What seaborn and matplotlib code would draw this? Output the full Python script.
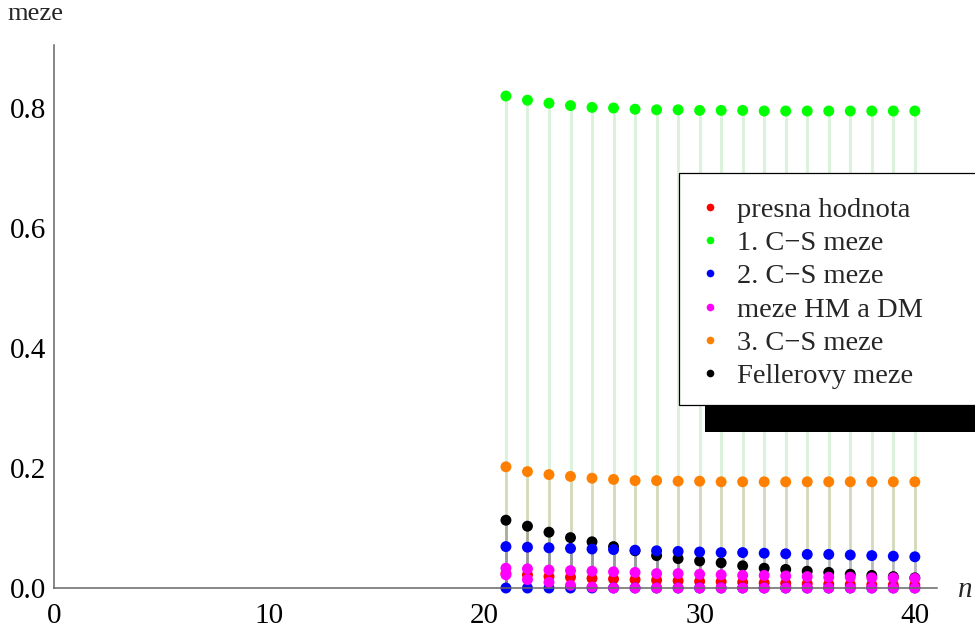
import numpy as np
import pandas as pd
import matplotlib
matplotlib.use("Agg")
import matplotlib.pyplot as plt
from matplotlib.lines import Line2D
from matplotlib.patches import Rectangle
import seaborn as sns

# ---- data -------------------------------------------------------------
n = list(range(21, 41))

presna = [0.024, 0.022, 0.019, 0.018, 0.016, 0.015, 0.014, 0.013, 0.012, 0.011,
          0.0105, 0.0095, 0.0085, 0.008, 0.0072, 0.0065, 0.006, 0.0055, 0.005, 0.005]
cs1 = [0.820, 0.813, 0.808, 0.804, 0.801, 0.800, 0.798, 0.797, 0.797, 0.796,
       0.796, 0.796, 0.795, 0.795, 0.795, 0.795, 0.795, 0.795, 0.795, 0.795]
cs2_horni = [0.069, 0.068, 0.067, 0.066, 0.065, 0.064, 0.063, 0.062, 0.061, 0.060,
             0.059, 0.059, 0.058, 0.057, 0.056, 0.056, 0.055, 0.054, 0.053, 0.052]
cs2_dolni = [0.0] * 20
hmdm_horni = [0.033, 0.032, 0.030, 0.029, 0.028, 0.027, 0.026, 0.024, 0.024, 0.023,
              0.022, 0.021, 0.021, 0.020, 0.019, 0.018, 0.018, 0.017, 0.017, 0.016]
hmdm_dolni = [0.022, 0.014, 0.0095, 0.0045, 0.0015, 0.0, 0.0, 0.0, 0.0, 0.0,
              0.0, 0.0, 0.0, 0.0, 0.0, 0.0, 0.0, 0.0, 0.0, 0.0]
cs3 = [0.202, 0.194, 0.189, 0.186, 0.183, 0.181, 0.179, 0.179, 0.178, 0.178,
       0.177, 0.177, 0.177, 0.177, 0.177, 0.177, 0.177, 0.177, 0.177, 0.177]
feller = [0.113, 0.103, 0.093, 0.084, 0.077, 0.069, 0.062, 0.054, 0.049, 0.045,
          0.042, 0.037, 0.033, 0.031, 0.028, 0.026, 0.023, 0.021, 0.019, 0.017]

labels = ["presna hodnota", "1. C\u2212S meze", "2. C\u2212S meze",
          "meze HM a DM", "3. C\u2212S meze", "Fellerovy meze"]
colors = ["#ff0000", "#00ff00", "#0000ff", "#ff00ff", "#ff8000", "#000000"]
palette = dict(zip(labels, colors))

# drawing order (later rows on top)
series = [
    (labels[1], cs1),
    (labels[4], cs3),
    (labels[5], feller),
    (labels[0], presna),
    (labels[2], cs2_horni),
    (labels[2], cs2_dolni),
    (labels[3], hmdm_horni),
    (labels[3], hmdm_dolni),
]
df = pd.concat(
    [pd.DataFrame({"n": n, "meze": vals, "rada": lab}) for lab, vals in series],
    ignore_index=True,
)

# ---- style ------------------------------------------------------------
sns.set_style("white")
plt.rcParams["font.family"] = ["Liberation Serif", "DejaVu Serif"]

W, H = 975, 632
fig = plt.figure(figsize=(W / 100, H / 100), dpi=100)
x0, x1, y0, y1 = 54, 937, 588, 45
ax = fig.add_axes([x0 / W, 1 - y0 / H, (x1 - x0) / W, (y0 - y1) / H])

# stems down to the axis (pale, desaturated)
for lab, vals in series:
    stem = sns.desaturate(palette[lab], 0.45) if lab != labels[5] else "#000000"
    ax.vlines(n, 0, vals, colors=[stem], alpha=0.2, lw=2.0, zorder=0.5)

sns.scatterplot(data=df, x="n", y="meze", hue="rada", palette=palette,
                s=62, linewidth=0, legend=False, ax=ax, clip_on=False, zorder=1)

ax.set_xlim(0, 41.03)
ax.set_ylim(0, 0.905)
ax.set_xlabel("")
ax.set_ylabel("")

for side in ("top", "right"):
    ax.spines[side].set_visible(False)
for side in ("left", "bottom"):
    ax.spines[side].set_color("#666666")
    ax.spines[side].set_linewidth(1.1)

ax.set_xticks([0, 10, 20, 30, 40])
ax.set_xticks([v for v in range(2, 41, 2) if v % 10], minor=True)
ax.set_yticks([0.0, 0.2, 0.4, 0.6, 0.8])
ax.set_yticklabels(["0.0", "0.2", "0.4", "0.6", "0.8"])
ax.set_yticks([v / 20 for v in range(1, 19) if v % 4], minor=True)

ax.tick_params(axis="both", which="both", direction="in", color="#444444",
               width=0.8, labelsize=21, labelcolor="black")
ax.tick_params(axis="both", which="major", length=7.5)
ax.tick_params(axis="both", which="minor", length=4.5)
ax.tick_params(axis="x", which="major", pad=10.5)
ax.tick_params(axis="y", which="major", pad=5.5)

fig.text(35 / W, 1 - 14 / H, "meze", ha="center", va="center", fontsize=19)
fig.text(965 / W, 1 - 590 / H, "n", ha="center", va="center", fontsize=21,
         style="italic")

# legend box with drop shadow
fig.patches.append(Rectangle((705 / W, 1 - 432 / H), 290 / W, 30 / H,
                             transform=fig.transFigure, facecolor="black",
                             edgecolor="none", zorder=5))
fig.patches.append(Rectangle((679 / W, 1 - 405 / H), 320 / W, 232 / H,
                             transform=fig.transFigure, facecolor="white",
                             edgecolor="black", linewidth=0.9, zorder=6))

handles = [Line2D([], [], linestyle="none", marker="o", markersize=5.5,
                  markerfacecolor=c, markeredgewidth=0) for c in colors]
leg = fig.legend(handles, labels, loc="upper left",
                 bbox_to_anchor=(696 / W, 1 - 197 / H),
                 bbox_transform=fig.transFigure, frameon=False, fontsize=20.5,
                 borderpad=0, borderaxespad=0, handlelength=1.0,
                 handletextpad=0.44, labelspacing=0.255)
leg.set_zorder(7)

fig.savefig("out.png", dpi=100)
